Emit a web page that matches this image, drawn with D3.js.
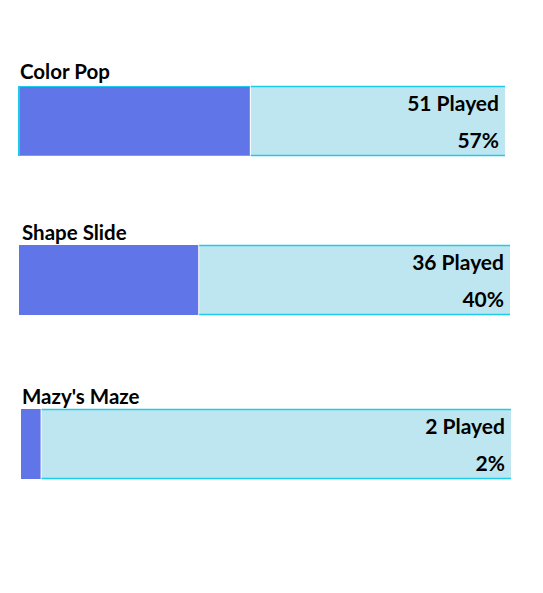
<!DOCTYPE html>
<html>
<head>
<meta charset="utf-8">
<script src="https://cdn.jsdelivr.net/npm/d3@7/dist/d3.min.js"></script>
<style>
  html, body { margin: 0; padding: 0; background: #ffffff; }
  svg { display: block; }
  text { font-family: Lato, "Open Sans", sans-serif; font-weight: bold; fill: #000; }
</style>
</head>
<body>
<svg id="chart" width="543" height="593"></svg>
<script>
// ---- data ----
const games = ["Color Pop", "Shape Slide", "Mazy's Maze"];
const played = [51, 36, 2];
const percent = [57, 40, 2];
// filled length of each bar (percent of the track)
const barFill = [47.6, 36.5, 4.0];

// ---- layout ----
const rows = [
  { left: 18, right: 505, top: 86, titleX: 20, titleY: 79 },
  { left: 19, right: 510, top: 245, titleX: 22, titleY: 240 },
  { left: 21, right: 511, top: 409, titleX: 22, titleY: 404 }
];
const barH = 70;
const fillColor = "#6076e8";
const trackColor = "#bee6f0";
const edgeColor = "#1ecbea";

const svg = d3.select("#chart");

games.forEach((name, i) => {
  const r = rows[i];
  const x = d3.scaleLinear().domain([0, 100]).range([r.left, r.right]);
  const g = svg.append("g");

  g.append("text")
    .attr("x", r.titleX).attr("y", r.titleY)
    .attr("font-size", 20.5)
    .text(name);

  // track (light part)
  const fx = x(barFill[i]);
  g.append("rect")
    .attr("x", fx + 1).attr("y", r.top)
    .attr("width", x(100) - fx - 1).attr("height", barH)
    .attr("fill", trackColor);
  // cyan top/bottom lines of the track
  g.append("line")
    .attr("x1", fx + 1).attr("x2", x(100))
    .attr("y1", r.top + 0.5).attr("y2", r.top + 0.5)
    .attr("stroke", edgeColor).attr("stroke-width", 1.5);
  g.append("line")
    .attr("x1", fx + 1).attr("x2", x(100))
    .attr("y1", r.top + barH - 0.5).attr("y2", r.top + barH - 0.5)
    .attr("stroke", edgeColor).attr("stroke-width", 1.5);

  // filled part
  g.append("rect")
    .attr("x", x(0)).attr("y", r.top)
    .attr("width", fx - x(0)).attr("height", barH)
    .attr("fill", fillColor);

  if (i === 0) {
    g.append("rect")
      .attr("x", x(0)).attr("y", r.top)
      .attr("width", 2).attr("height", barH)
      .attr("fill", edgeColor);
    g.append("line")
      .attr("x1", x(0)).attr("x2", fx)
      .attr("y1", r.top + 0.5).attr("y2", r.top + 0.5)
      .attr("stroke", edgeColor).attr("stroke-width", 1);
    g.append("line")
      .attr("x1", x(0)).attr("x2", fx)
      .attr("y1", r.top + barH - 0.5).attr("y2", r.top + barH - 0.5)
      .attr("stroke", edgeColor).attr("stroke-width", 1);
  }

  g.append("text")
    .attr("x", x(100) - 6).attr("y", r.top + 24.5)
    .attr("text-anchor", "end")
    .attr("font-size", 21)
    .text(played[i] + " Played");

  g.append("text")
    .attr("x", x(100) - 6).attr("y", r.top + 62)
    .attr("text-anchor", "end")
    .attr("font-size", 21)
    .text(percent[i] + "%");
});
</script>
</body>
</html>
